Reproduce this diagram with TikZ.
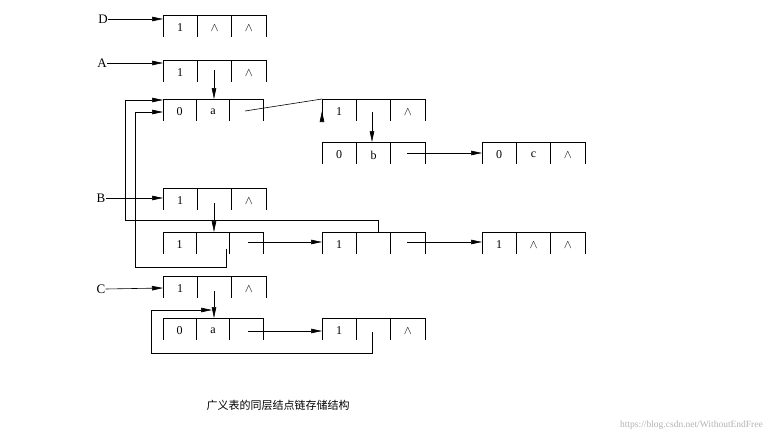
\documentclass[tikz,border=0pt]{standalone}
\usepackage{fontspec}
\setmainfont{Liberation Serif}
\newfontfamily\cjk{Noto Sans CJK SC}
\usetikzlibrary{arrows.meta}
\newcommand\ebox[7]{% name, x, y(top), width, t1,t2,t3
  \pgfmathsetmacro\cw{#4/3}
  \draw[thin] (#2,#3+22) -- (#2,#3) -- (#2+#4,#3) -- (#2+#4,#3+22)
     (#2+\cw,#3) -- (#2+\cw,#3+22) (#2+2*\cw,#3) -- (#2+2*\cw,#3+22);
  \node[cell] (#1-1) at (#2+0.5*\cw,#3+13) {#5};
  \node[cell] (#1-2) at (#2+1.5*\cw,#3+13) {#6};
  \node[cell] (#1-3) at (#2+2.5*\cw,#3+13) {#7};
  \coordinate (#1-nw) at (#2,#3);
}
\begin{document}
\begin{tikzpicture}[x=1pt,y=-1pt,
  cell/.style={inner sep=0pt,font=\fontsize{12}{12}\selectfont},
  lab/.style={inner sep=0pt,font=\fontsize{13}{13}\selectfont},
  ar/.style={-{Triangle[length=11pt,width=4.5pt]},line width=0.6pt},
  ln/.style={line width=0.6pt}]
\useasboundingbox (0,0) rectangle (783,444);
\ebox{D}{163}{15}{103}{1}{$\wedge$}{$\wedge$}
\ebox{A}{163}{60}{103}{1}{}{$\wedge$}
\ebox{Aa}{163}{99}{100}{0}{a}{}
\ebox{A1}{322}{99}{103}{1}{}{$\wedge$}
\ebox{Ab}{322}{142}{103}{0}{b}{}
\ebox{Ac}{482}{142}{103}{0}{c}{$\wedge$}
\ebox{B}{163}{188}{103}{1}{}{$\wedge$}
\ebox{Bs}{163}{232}{100}{1}{}{}
\ebox{Bm}{322}{232}{103}{1}{}{}
\ebox{Br}{482}{232}{103}{1}{$\wedge$}{$\wedge$}
\ebox{C}{163}{276}{103}{1}{}{$\wedge$}
\ebox{Cs}{163}{318}{100}{0}{a}{}
\ebox{Cm}{322}{318}{103}{1}{}{$\wedge$}
\node[lab] (lD) at (103,19) {D};
\node[lab] (lA) at (102,63) {A};
\node[lab] (lB) at (101,198) {B};
\node[lab] (lC) at (101,289) {C};
\draw[ar] (lD.east) -- (163,19);
\draw[ar] (lA.east) -- (163,63);
\draw[ar] (lB.east) -- (163,198);
\draw[ar] (lC.east) -- (163,288);
% down arrows
\draw[ar] (214,70) -- (214,99);
\draw[ar] (372,112) -- (372,142);
\draw[ar] (214,203) -- (214,232);
\draw[ar] (214,291) -- (214,318);
% right arrows
\draw[ar] (245,111) -- (Aa-nw -| A1-nw) ++(0,12);
\draw[ar] (407,153) -- (482,153);
\draw[ar] (248,242) -- (322,242);
\draw[ar] (407,242) -- (482,242);
\draw[ar] (248,331) -- (322,331);
% loops
\draw[ar] (378,232) -- (378,220) -- (125,220) -- (125,100) -- (163,100);
\draw[ar] (226,249) -- (226,267) -- (135,267) -- (135,112) -- (163,112);
\draw[ar] (372,332) -- (372,353) -- (151,353) -- (151,310) -- (212,310);
\node[inner sep=0pt,font=\cjk\fontsize{11}{11}\selectfont] (cap) at (278,405) {广义表的同层结点链存储结构};
\node[inner sep=0pt,text=black!30,font=\fontsize{9.5}{10}\selectfont,anchor=east] (wm) at (763,425) {https://blog.csdn.net/WithoutEndFree};
\end{tikzpicture}
\end{document}
